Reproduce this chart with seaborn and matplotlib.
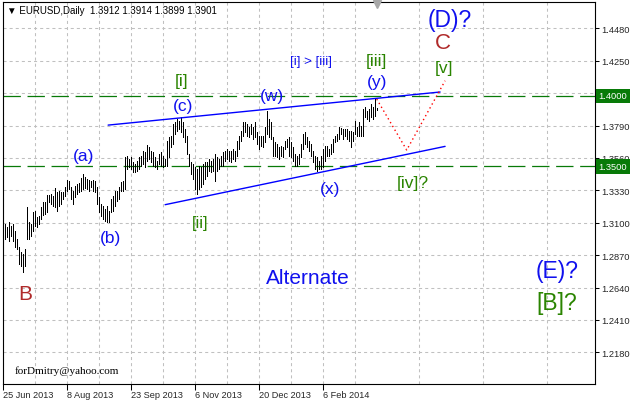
import numpy as np
import pandas as pd
import matplotlib
matplotlib.use('Agg')
import matplotlib.pyplot as plt
import seaborn as sns

# EURUSD daily bars (oldest -> newest)
highs = [1.3091, 1.3069, 1.3105, 1.3076, 1.3091, 1.3041, 1.2984, 1.2927, 1.2892, 1.2878,
         1.2913, 1.3211, 1.3105, 1.3091, 1.3176, 1.3183, 1.3140, 1.3147, 1.3211, 1.3247,
         1.3247, 1.3296, 1.3296, 1.3304, 1.3289, 1.3346, 1.3318, 1.3325, 1.3318, 1.3318,
         1.3353, 1.3403, 1.3396, 1.3353, 1.3325, 1.3360, 1.3375, 1.3382, 1.3417, 1.3446,
         1.3424, 1.3410, 1.3403, 1.3396, 1.3403, 1.3396, 1.3353, 1.3282, 1.3233, 1.3218,
         1.3197, 1.3218, 1.3183, 1.3268, 1.3289, 1.3325, 1.3325, 1.3353, 1.3389, 1.3396,
         1.3566, 1.3573, 1.3552, 1.3566, 1.3531, 1.3517, 1.3538, 1.3566, 1.3573, 1.3609,
         1.3602, 1.3651, 1.3637, 1.3609, 1.3602, 1.3566, 1.3538, 1.3588, 1.3602, 1.3573,
         1.3552, 1.3680, 1.3708, 1.3715, 1.3801, 1.3815, 1.3836, 1.3822, 1.3850, 1.3815,
         1.3765, 1.3715, 1.3588, 1.3531, 1.3517, 1.3495, 1.3481, 1.3502, 1.3495, 1.3517,
         1.3531, 1.3531, 1.3552, 1.3538, 1.3552, 1.3588, 1.3566, 1.3552, 1.3573, 1.3602,
         1.3609, 1.3623, 1.3609, 1.3609, 1.3623, 1.3609, 1.3680, 1.3715, 1.3751, 1.3815,
         1.3815, 1.3801, 1.3779, 1.3801, 1.3779, 1.3815, 1.3744, 1.3715, 1.3715, 1.3715,
         1.3779, 1.3893, 1.3836, 1.3815, 1.3708, 1.3673, 1.3659, 1.3637, 1.3644, 1.3637,
         1.3680, 1.3694, 1.3708, 1.3673, 1.3637, 1.3588, 1.3573, 1.3588, 1.3659, 1.3730,
         1.3744, 1.3708, 1.3680, 1.3659, 1.3609, 1.3573, 1.3566, 1.3538, 1.3573, 1.3623,
         1.3644, 1.3644, 1.3623, 1.3659, 1.3694, 1.3715, 1.3730, 1.3779, 1.3772, 1.3765,
         1.3765, 1.3765, 1.3751, 1.3751, 1.3744, 1.3822, 1.3779, 1.3815, 1.3786, 1.3907,
         1.3921, 1.3893, 1.3907, 1.3943, 1.3921, 1.3978, 1.3914]
lows = [1.2984, 1.2998, 1.2970, 1.3005, 1.2970, 1.2927, 1.2913, 1.2807, 1.2792, 1.2750,
        1.2792, 1.2984, 1.2984, 1.3005, 1.3041, 1.3076, 1.3069, 1.3091, 1.3126, 1.3154,
        1.3162, 1.3176, 1.3247, 1.3233, 1.3218, 1.3211, 1.3183, 1.3218, 1.3233, 1.3268,
        1.3289, 1.3325, 1.3339, 1.3268, 1.3233, 1.3282, 1.3304, 1.3318, 1.3325, 1.3339,
        1.3346, 1.3339, 1.3325, 1.3353, 1.3325, 1.3318, 1.3233, 1.3176, 1.3147, 1.3126,
        1.3112, 1.3105, 1.3105, 1.3176, 1.3183, 1.3218, 1.3254, 1.3268, 1.3325, 1.3325,
        1.3339, 1.3481, 1.3495, 1.3481, 1.3460, 1.3460, 1.3467, 1.3481, 1.3502, 1.3517,
        1.3495, 1.3538, 1.3552, 1.3531, 1.3502, 1.3495, 1.3481, 1.3517, 1.3502, 1.3495,
        1.3502, 1.3502, 1.3566, 1.3637, 1.3659, 1.3730, 1.3751, 1.3765, 1.3744, 1.3708,
        1.3673, 1.3588, 1.3502, 1.3446, 1.3410, 1.3339, 1.3304, 1.3339, 1.3353, 1.3375,
        1.3410, 1.3431, 1.3467, 1.3460, 1.3467, 1.3396, 1.3467, 1.3481, 1.3502, 1.3502,
        1.3538, 1.3552, 1.3538, 1.3531, 1.3552, 1.3538, 1.3573, 1.3623, 1.3680, 1.3715,
        1.3744, 1.3715, 1.3708, 1.3730, 1.3694, 1.3708, 1.3659, 1.3623, 1.3644, 1.3637,
        1.3673, 1.3730, 1.3708, 1.3694, 1.3573, 1.3573, 1.3566, 1.3552, 1.3573, 1.3566,
        1.3623, 1.3637, 1.3573, 1.3566, 1.3538, 1.3502, 1.3502, 1.3517, 1.3566, 1.3623,
        1.3659, 1.3637, 1.3609, 1.3573, 1.3531, 1.3481, 1.3467, 1.3481, 1.3481, 1.3495,
        1.3538, 1.3573, 1.3573, 1.3588, 1.3602, 1.3673, 1.3680, 1.3694, 1.3730, 1.3694,
        1.3715, 1.3694, 1.3680, 1.3637, 1.3680, 1.3730, 1.3715, 1.3715, 1.3715, 1.3715,
        1.3850, 1.3836, 1.3822, 1.3850, 1.3836, 1.3857, 1.3899]
last_ohlc = [1.3912, 1.3914, 1.3899, 1.3901]

date_labels = ['25 Jun 2013', '8 Aug 2013', '23 Sep 2013', '6 Nov 2013', '20 Dec 2013', '6 Feb 2014']
date_bars = [-1, 31, 63, 95, 127, 159]
price_ticks = [1.4480, 1.4250, 1.4020, 1.3790, 1.3560, 1.3330, 1.3100, 1.2870, 1.2640, 1.2410, 1.2180]
levels = [1.4000, 1.3500]

# channel lines and the expected path
upper_x = [51.4, 217.4]
upper_y = [1.3793, 1.4028]
lower_x = [79.9, 219.9]
lower_y = [1.3228, 1.3642]
path_x = [185.7, 200.7, 219.9]
path_y = [1.3978, 1.3616, 1.4108]

df = pd.DataFrame({'bar': np.arange(len(highs)), 'high': highs, 'low': lows})

sns.set_theme(style='white')
plt.rcParams['font.family'] = ['Liberation Sans', 'DejaVu Sans']
plt.rcParams['lines.scale_dashes'] = False

fig = plt.figure(figsize=(6.33, 4.02), dpi=100)
ax = fig.add_axes([3 / 633, 17 / 402, 592 / 633, 382 / 402])
ax.set_facecolor('white')

# grid (MT4 style dashed grey)
ax.set_xticks(np.arange(15, 295, 32), minor=True)
ax.grid(True, which='both', axis='x', color='#c0c0c0', lw=0.75, dashes=(2.2, 2.2))
ax.grid(True, which='major', axis='y', color='#c0c0c0', lw=0.75, dashes=(2.2, 2.2))

# price bars, 1px wide
ax.vlines(df['bar'], df['low'], df['high'], colors='black', lw=0.55, antialiased=False, zorder=3)

# horizontal levels
green = '#087a08'
for lv in levels:
    ax.axhline(lv, color=green, lw=0.9, dashes=(12.5, 4.8), zorder=2)
    ax.annotate(f'{lv:.4f}', xy=(1, lv), xycoords=('axes fraction', 'data'),
                xytext=(2.5, 0), textcoords='offset points', ha='left', va='center',
                color='white', fontsize=6.7, annotation_clip=False, zorder=6,
                bbox=dict(boxstyle='square,pad=0.3', fc=green, ec='none'))

# channel + path
sns.lineplot(x=upper_x, y=upper_y, color='#0000ff', lw=1.0, ax=ax, zorder=4)
sns.lineplot(x=lower_x, y=lower_y, color='#0000ff', lw=1.0, ax=ax, zorder=4)
sns.lineplot(x=path_x, y=path_y, color='#ff0000', lw=1.0, ax=ax, zorder=4,
             sort=False, dashes=False)
ax.lines[-1].set_dashes((1.0, 2.2))

# wave labels
blue = '#1010ee'
wgreen = '#2a8400'
brown = '#b02a2a'
labels = [
    ('[i]', 88.2, 1.4108, wgreen, 12.5),
    ('(c)', 88.9, 1.3935, blue, 12.5),
    ('(w)', 133.4, 1.4000, blue, 12.5),
    ('[i] > [iii]', 153.1, 1.4248, blue, 9.5),
    ('[iii]', 185.7, 1.4250, wgreen, 12.5),
    ('(y)', 185.9, 1.4106, blue, 12.5),
    ('(D)?', 222.4, 1.4546, blue, 16.5),
    ('C', 218.9, 1.4383, brown, 16),
    ('[v]', 219.4, 1.4205, wgreen, 12.5),
    ('(a)', 38.9, 1.3580, blue, 12.5),
    ('(b)', 52.4, 1.2998, blue, 12.5),
    ('[ii]', 97.4, 1.3105, wgreen, 12),
    ('(x)', 162.4, 1.3346, blue, 12.5),
    ('[iv]?', 203.9, 1.3389, wgreen, 12.5),
    ('B', 9.9, 1.2594, brown, 15),
    ('Alternate', 151.4, 1.2714, blue, 15),
    ('(E)?', 275.9, 1.2764, blue, 16.5),
    ('[B]?', 275.9, 1.2537, wgreen, 16.5),
]
for txt, x, y, c, s in labels:
    ax.text(x, y, txt, color=c, fontsize=s, ha='center', va='center', zorder=5)

ax.text(4.9, 1.2054, 'forDmitry@yahoo.com', family='Liberation Serif', fontsize=8,
        color='black', ha='left', va='center', zorder=5)

# header
ax.text(4 / 592, 1 - 8 / 382, '\u25bc EURUSD,Daily  ' + ' '.join(f'{v:.4f}' for v in last_ohlc),
        transform=ax.transAxes, fontsize=7, color='black', ha='left', va='center',
        family=['Liberation Sans', 'DejaVu Sans'])
ax.plot([185.9], [1.0 - 2 / 382], marker='v', ms=5.5, color='#a8a8a8',
        transform=ax.get_xaxis_transform(), clip_on=False, zorder=6)

# axes
ax.set_xlim(-1.15, 294.85)
ax.set_ylim(1.1955, 1.4667)
ax.set_xticks(date_bars, date_labels)
ax.set_yticks(price_ticks, [f'{v:.4f}' for v in price_ticks])
ax.yaxis.tick_right()
ax.tick_params(axis='x', which='major', direction='out', length=4, width=0.75,
               color='black', labelsize=6.6, pad=0.5, bottom=True)
ax.tick_params(axis='x', which='minor', length=0)
ax.tick_params(axis='y', direction='out', length=3, width=0.75, color='black',
               labelsize=6.7, pad=1.5, right=True, left=False)
plt.setp(ax.get_xticklabels(), ha='left')
for sp in ax.spines.values():
    sp.set_visible(True)
    sp.set_color('black')
    sp.set_linewidth(0.8)
ax.set_xlabel('')
ax.set_ylabel('')
if ax.get_legend():
    ax.get_legend().remove()

fig.savefig('out.png', dpi=100)
